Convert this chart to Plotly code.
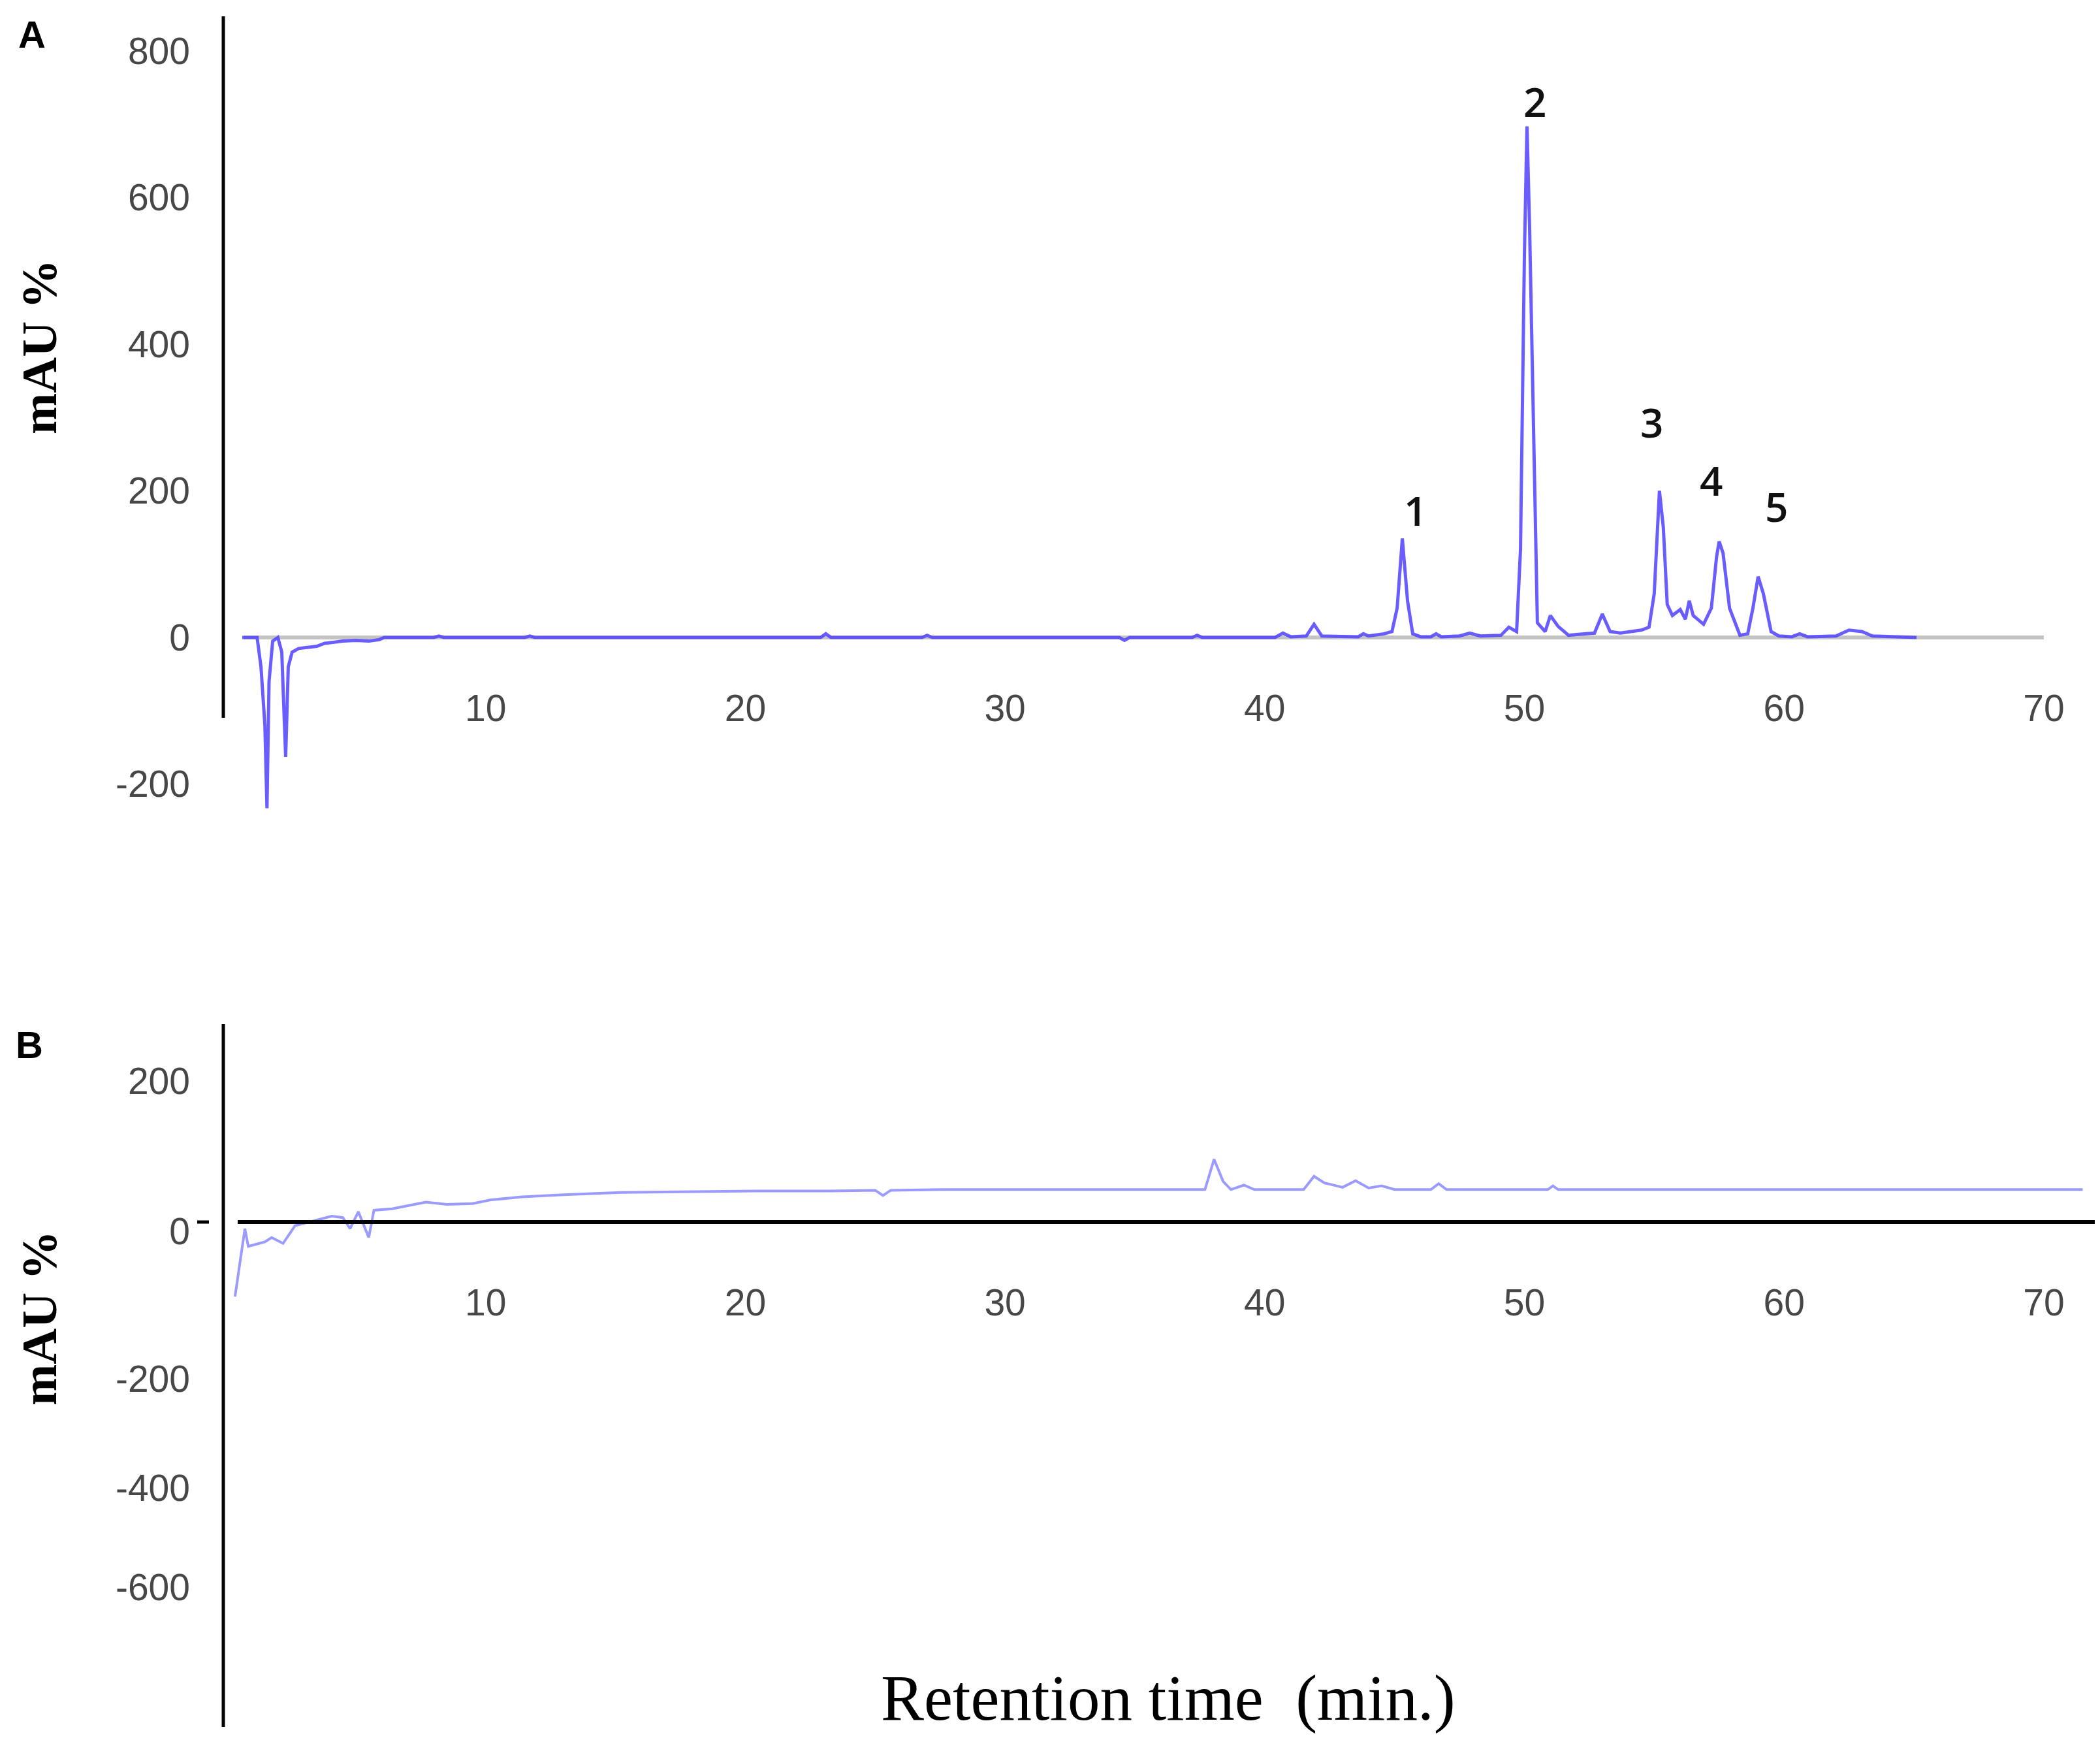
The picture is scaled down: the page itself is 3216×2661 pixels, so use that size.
import plotly.graph_objects as go

# ---- data ----
# panel A: sample (retention time in min, absorbance in mAU)
a_time = [0.63, 1.2, 1.35, 1.5, 1.58, 1.66, 1.8, 2.0, 2.15, 2.3, 2.4, 2.55, 2.8,
          3.5, 3.8, 4.5, 5.0, 5.5, 5.9, 6.1, 8.0, 8.2, 8.4, 11.5, 11.7, 11.9,
          22.9, 23.1, 23.3, 26.8, 27.0, 27.2, 34.4, 34.6, 34.8, 37.2, 37.4, 37.6,
          40.4, 40.7, 41.0, 41.6, 41.9, 42.2, 43.6, 43.8, 44.0, 44.6, 44.9, 45.1,
          45.3, 45.5, 45.7, 46.0, 46.4, 46.6, 46.8, 47.5, 47.9, 48.3, 49.1, 49.4,
          49.7, 49.85, 50.0, 50.1, 50.2, 50.35, 50.5, 50.8, 51.0, 51.3, 51.7, 52.0,
          52.7, 53.0, 53.3, 53.7, 54.5, 54.8, 55.0, 55.2, 55.35, 55.5, 55.7, 56.0,
          56.2, 56.35, 56.5, 56.9, 57.2, 57.4, 57.5, 57.65, 57.9, 58.3, 58.6, 58.8,
          59.0, 59.2, 59.5, 59.8, 60.3, 60.6, 60.9, 62.0, 62.5, 63.0, 63.4, 65.1]
a_mau = [0, 0, -40, -120, -233, -60, -5, 0, -20, -163, -40, -20, -15,
         -12, -8, -5, -4, -5, -3, 0, 0, 2, 0, 0, 2, 0,
         0, 5, 0, 0, 3, 0, 0, -4, 0, 0, 3, 0,
         0, 6, 1, 2, 18, 2, 1, 5, 2, 5, 8, 40,
         135, 50, 5, 1, 1, 5, 1, 2, 6, 2, 3, 14,
         8, 120, 520, 697, 560, 300, 20, 8, 30, 15, 3, 4,
         6, 32, 8, 6, 10, 14, 60, 200, 150, 45, 30, 38,
         25, 50, 30, 18, 40, 110, 131, 115, 40, 3, 5, 40,
         83, 60, 8, 2, 1, 5, 1, 2, 10, 8, 2, 0]
a_base_time = [0.7, 70.0]
a_base_mau = [0, 0]

peak_ids = ["1", "2", "3", "4", "5"]
peak_label_time = [45.8, 50.4, 54.9, 57.2, 59.7]
peak_label_mau = [174, 731, 294, 215, 179]

# panel B: blank
b_time = [0.35, 0.73, 0.86, 1.2, 1.5, 1.76, 2.2, 2.66, 3.3, 4.07, 4.5, 4.78, 5.1,
          5.5, 5.7, 6.4, 7.7, 8.5, 9.5, 10.2, 11.4, 13.0, 15.2, 17.5, 20.4, 23.0,
          25.0, 25.3, 25.6, 27.6, 30.0, 35.0, 37.7, 38.05, 38.4, 38.7, 39.2, 39.6,
          41.5, 41.9, 42.3, 43.0, 43.5, 44.0, 44.5, 45.0, 46.4, 46.7, 47.0, 50.9,
          51.1, 51.3, 60.0, 71.5]
b_mau = [-101, -9, -33, -30, -27, -21, -29, -5, 1, 8, 6, -9, 14,
         -21, 16, 18, 27, 24, 25, 30, 34, 37, 40, 41, 42, 42,
         43, 36, 43, 44, 44, 44, 44, 85, 55, 44, 50, 44,
         44, 62, 53, 47, 56, 46, 49, 44, 44, 52, 44, 44,
         49, 44, 44, 44]

x_ticks = [10, 20, 30, 40, 50, 60, 70]
a_y_ticks = [800, 600, 400, 200, 0, -200]
a_y_text = ["800", "600", "400", "200", "0", "-200"]
b_y_text = ["200", "0", "-200", "-400", "-600"]
b_y_at = [191, -12, -212, -360, -495]

# ---- page geometry (pixels) ----
W, H = 3216, 2661
X0_PX, PX_MIN = 338, 39.77
AXIS_PX = 334
A_ZERO, A_K = 968, 1.1225
B_ZERO, B_K = 1863, 1.13


def fx(p):
    return p / W


def fy(p):
    return 1 - p / H


tick_font = dict(family="Liberation Sans, Arial", size=57, color="#474747")
x_range = [(AXIS_PX - X0_PX) / PX_MIN, (W - X0_PX) / PX_MIN]

fig = go.Figure()
fig.add_trace(go.Scatter(x=a_base_time, y=a_base_mau, mode="lines",
                         line=dict(color="#c4c4c4", width=6),
                         xaxis="x", yaxis="y", hoverinfo="skip"))
fig.add_trace(go.Scatter(x=a_time, y=a_mau, mode="lines",
                         line=dict(color="rgba(80,65,255,0.85)", width=5),
                         xaxis="x", yaxis="y"))
fig.add_trace(go.Scatter(x=b_time, y=b_mau, mode="lines",
                         line=dict(color="rgba(130,130,255,0.8)", width=4),
                         xaxis="x2", yaxis="y2"))

for lab, t, v in zip(peak_ids, peak_label_time, peak_label_mau):
    fig.add_annotation(x=t, y=v, xref="x", yref="y", text=lab, showarrow=False,
                       xanchor="center", yanchor="middle",
                       font=dict(family="Open Sans", size=62, weight=600,
                                 color="#111111"))

axis_common = dict(showgrid=False, zeroline=False, showline=False, ticks="",
                   tickfont=tick_font)

fig.update_layout(
    width=W, height=H, margin=dict(l=0, r=0, t=0, b=0),
    paper_bgcolor="white", plot_bgcolor="white", showlegend=False,
    xaxis=dict(domain=[fx(AXIS_PX), 1], range=x_range, anchor="free",
               position=fy(A_ZERO), tickvals=x_ticks, ticklabelstandoff=70,
               **axis_common),
    yaxis=dict(domain=[fy(1380), 1], range=[(A_ZERO - 1380) / A_K, A_ZERO / A_K],
               anchor="x", tickvals=a_y_ticks, ticktext=a_y_text,
               ticklabelstandoff=50, **axis_common),
    xaxis2=dict(domain=[fx(AXIS_PX), 1], range=x_range, anchor="free",
                position=fy(B_ZERO), tickvals=x_ticks, ticklabelstandoff=85,
                **axis_common),
    yaxis2=dict(domain=[0, fy(1400)], range=[(B_ZERO - H) / B_K, (B_ZERO - 1400) / B_K],
                anchor="x2", tickvals=b_y_at, ticktext=b_y_text,
                ticklabelstandoff=50, **axis_common),
)

# axis lines drawn by hand, as in the figure
line_k = dict(color="black", width=5)
fig.add_shape(type="line", xref="paper", yref="paper", x0=fx(AXIS_PX), x1=fx(AXIS_PX),
              y0=fy(17), y1=fy(1091), line=line_k)
fig.add_shape(type="line", xref="paper", yref="paper", x0=fx(AXIS_PX), x1=fx(AXIS_PX),
              y0=fy(1560), y1=fy(2636), line=line_k)
fig.add_shape(type="line", xref="paper", yref="paper", x0=fx(356), x1=fx(3210),
              y0=fy(B_ZERO), y1=fy(B_ZERO), line=dict(color="black", width=6))
fig.add_shape(type="line", xref="paper", yref="paper", x0=fx(294), x1=fx(312),
              y0=fy(B_ZERO), y1=fy(B_ZERO), line=line_k)

title_font = dict(family="Liberation Serif, Times New Roman", size=76, color="black")
for cy in (523, 2010):
    fig.add_annotation(x=fx(52), y=fy(cy), xref="paper", yref="paper",
                       text="<b>mAU %</b>", textangle=-90, showarrow=False,
                       xanchor="center", yanchor="middle", font=title_font)
fig.add_annotation(x=fx(1781), y=fy(2592), xref="paper", yref="paper",
                   text="Retention time \u00a0(min.)", showarrow=False,
                   xanchor="center", yanchor="middle",
                   font=dict(family="Liberation Serif, Times New Roman", size=99,
                             color="black"))
for lab, cx, cy in (("A", 41, 44), ("B", 37, 1592)):
    fig.add_annotation(x=fx(cx), y=fy(cy), xref="paper", yref="paper",
                       text="<b>" + lab + "</b>", showarrow=False,
                       xanchor="center", yanchor="middle",
                       font=dict(family="Liberation Sans, Arial", size=58,
                                 color="black"))

fig.write_html("out.html")
